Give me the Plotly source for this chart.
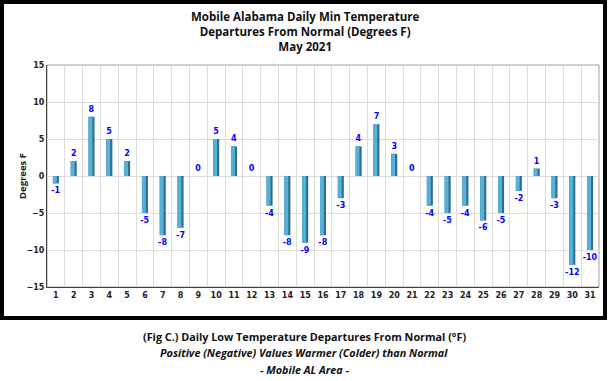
import plotly.graph_objects as go

days = list(range(1, 32))
departures = [-1, 2, 8, 5, 2, -5, -8, -7, 0, 5, 4, 0, -4, -8, -9, -8, -3, 4, 7, 3, 0,
              -4, -5, -4, -6, -5, -2, 1, -3, -12, -10]
title_lines = ["Mobile Alabama Daily Min Temperature",
               "Departures From Normal (Degrees F)",
               "May 2021"]
caption_lines = ["<b>(Fig C.) Daily Low Temperature Departures From Normal (°F)</b>",
                 "<b><i>Positive (Negative) Values Warmer (Colder) than Normal</i></b>",
                 "<b><i>- Mobile AL Area -</i></b>"]
y_ticks = [-15, -10, -5, 0, 5, 10, 15]

# plot area in pixels
L, R, T, B = 47, 599, 65, 287
W, H = 608, 381
pw, ph = R - L, B - T

def px_x(p):
    return (p - L) / pw

def px_y(p):
    return (B - p) / ph

fig = go.Figure()
fig.add_trace(go.Bar(
    x=days, y=departures, width=0.34,
    marker=dict(color="#2f6e8e", line=dict(width=0)),
    text=[str(v) for v in departures], textposition="outside", constraintext="none",
    textfont=dict(family="DejaVu Sans", size=8, color="#0000ff", weight="bold"),
    cliponaxis=False, hoverinfo="x+y"))
fig.add_trace(go.Bar(
    x=days, y=departures, width=0.22, offset=-0.17,
    marker=dict(color="#55b0da", line=dict(width=0)),
    hoverinfo="skip"))

fig.update_layout(
    width=W, height=H, barmode="overlay", showlegend=False,
    margin=dict(l=L, r=W - R, t=T, b=H - B, autoexpand=False),
    paper_bgcolor="white", plot_bgcolor="white",
    font=dict(family="Open Sans", color="#222"),
    xaxis=dict(range=[0.5, 31.5], tickmode="array", tickvals=days,
               ticktext=[str(d) for d in days], showgrid=False, zeroline=False,
               showline=True, linecolor="#444", linewidth=1, ticks="",
               tickfont=dict(family="DejaVu Sans", size=8, color="#222", weight="bold"),
               minor=dict(tick0=0.5, dtick=1, showgrid=True, gridcolor="#dcdcdc", gridwidth=1)),
    yaxis=dict(range=[-15, 15], tickvals=y_ticks, showgrid=True, gridcolor="#dcdcdc",
               zeroline=False, showline=True, linecolor="#444", linewidth=1, ticks="",
               tickfont=dict(family="DejaVu Sans", size=8, color="#222", weight="bold")),
)

# plot area light border on top/right
fig.add_shape(type="rect", xref="paper", yref="paper", x0=0, x1=1, y0=0, y1=1,
              line=dict(color="#a0a0a0", width=1), layer="below")
# outer thick frame
fig.add_shape(type="rect", xref="paper", yref="paper",
              x0=px_x(2), x1=px_x(605), y0=px_y(318), y1=px_y(2),
              line=dict(color="black", width=4))

fig.add_annotation(text="<b>Degrees F</b>", xref="paper", yref="paper",
                   x=px_x(22), y=px_y(176), showarrow=False, textangle=-90,
                   xanchor="center", yanchor="middle",
                   font=dict(family="Open Sans", size=9.5, color="#222"))

fig.add_annotation(text="<br>".join("<b>" + t + "</b>" for t in title_lines),
                   xref="paper", yref="paper",
                   x=px_x(305), y=px_y(31), showarrow=False,
                   xanchor="center", yanchor="middle", align="center",
                   font=dict(family="Open Sans", size=11.5, color="#111"))
for i, t in enumerate(caption_lines):
    fig.add_annotation(text=t, xref="paper", yref="paper",
                       x=px_x(304), y=px_y(336 + 16.5 * i), showarrow=False,
                       xanchor="center", yanchor="middle",
                       font=dict(family="Open Sans", size=10.8, color="#111"))

fig.write_html("out.html", config={"displayModeBar": False},
               post_script="document.body.style.margin='0';")
